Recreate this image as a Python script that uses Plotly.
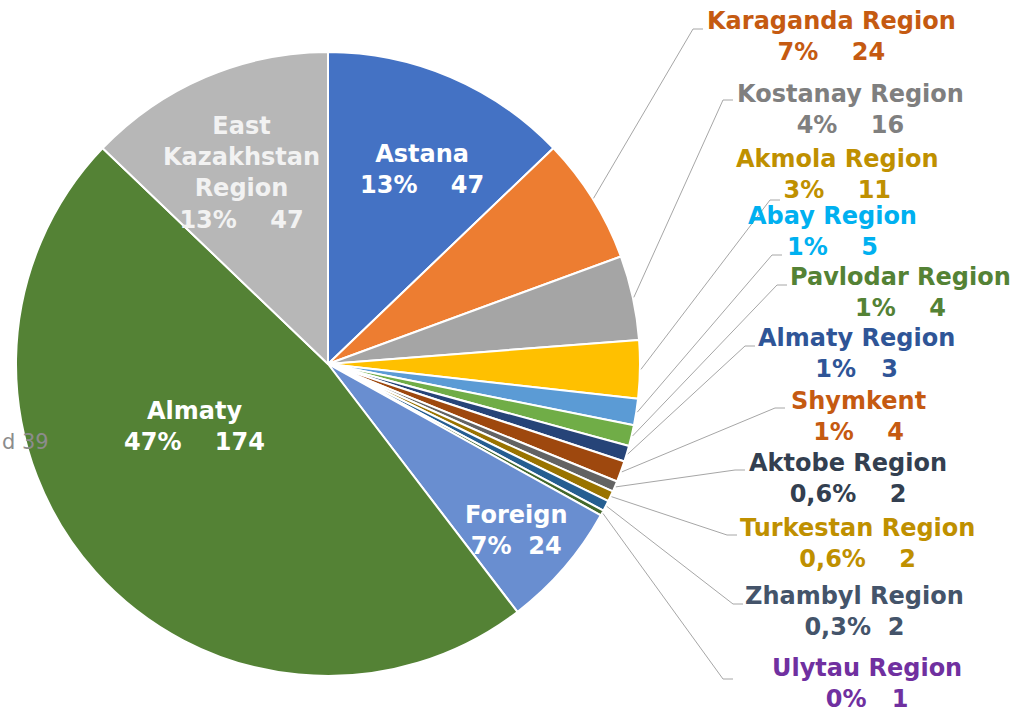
import math
import plotly.graph_objects as go

# ---------------- data ----------------
labels = ["Astana", "Karaganda Region", "Kostanay Region", "Akmola Region", "Abay Region",
          "Pavlodar Region", "Almaty Region", "Shymkent", "Aktobe Region", "Turkestan Region",
          "Zhambyl Region", "Ulytau Region", "Foreign", "Almaty", "East Kazakhstan Region"]
values = [47, 24, 16, 11, 5, 4, 3, 4, 2, 2, 2, 1, 24, 174, 47]
pct_labels = ["13%", "7%", "4%", "3%", "1%", "1%", "1%", "1%", "0,6%", "0,6%",
              "0,3%", "0%", "7%", "47%", "13%"]
name_lines = ["Astana", "Karaganda Region", "Kostanay Region", "Akmola Region", "Abay Region",
              "Pavlodar Region", "Almaty Region", "Shymkent", "Aktobe Region", "Turkestan Region",
              "Zhambyl Region", "Ulytau Region", "Foreign", "Almaty", "East<br>Kazakhstan<br>Region"]
clipped_label = "d 39"

# ---------------- styles ----------------
slice_colors = ["#4472C4", "#ED7D31", "#A5A5A5", "#FFC000", "#5B9BD5", "#70AD47", "#264478",
                "#9E480E", "#636363", "#997300", "#255E91", "#43682B", "#698ED0", "#548235",
                "#B7B7B7"]
text_colors = ["#FFFFFF", "#C55A11", "#7F7F7F", "#BF9000", "#00B0F0", "#548235", "#2F5597",
               "#C55A11", "#333F50", "#BF9000", "#44546A", "#7030A0", "#FFFFFF", "#FFFFFF",
               "#F2F2F2"]
gaps = [4, 4, 4, 4, 4, 4, 3, 4, 4, 4, 2, 3, 2, 4, 4]

# layout (pixel positions of label centres)
W, H = 1024, 713
CX, CY, R = 328, 364, 312
label_pos = [(422, 169), (831, 36.5), (850, 109.5), (837, 174.5), (832, 231.5),
             (900, 292.5), (856, 353.5), (858, 416.5), (848, 478), (857, 543),
             (854, 611), (867, 683.5), (516, 530), (194, 426.5), (241, 172.5)]
elbows = [None, (693, 29), (723, 100), (770, 200), (772, 255), (777, 285), (745, 346),
          (775, 408), (735, 470), (727, 535), (733, 604), (723, 679), None, None, None]

FONT = "DejaVu Sans"
FS = 24


def px(x):
    return x / W


def py(y):
    return 1 - y / H


fig = go.Figure()
fig.add_trace(go.Pie(
    labels=labels, values=values, sort=False, direction="clockwise", rotation=0,
    marker=dict(colors=slice_colors, line=dict(color="white", width=2)),
    textinfo="none", hoverinfo="label+value+percent", showlegend=False,
    domain=dict(x=[(CX - R) / W, (CX + R) / W], y=[1 - (CY + R) / H, 1 - (CY - R) / H]),
))

total = sum(values)
shapes = []
annotations = []
cum = 0
for i, v in enumerate(values):
    mid = (cum + v / 2) / total * 2 * math.pi
    cum += v
    nb = "\u00a0" * gaps[i]
    txt = f"<b>{name_lines[i]}<br>{pct_labels[i]}{nb}{v}</b>"
    x, y = label_pos[i]
    annotations.append(dict(
        x=px(x), y=py(y), xref="paper", yref="paper", text=txt, showarrow=False,
        xanchor="center", yanchor="middle", align="center",
        font=dict(family=FONT, size=FS, color=text_colors[i]),
    ))
    if elbows[i] is not None:
        ex = CX + (R + 1) * math.sin(mid)
        ey = CY - (R + 1) * math.cos(mid)
        bx, by = elbows[i]
        path = f"M {px(ex)} {py(ey)} L {px(bx)} {py(by)} L {px(bx + 10)} {py(by)}"
        shapes.append(dict(type="path", path=path, xref="paper", yref="paper",
                           line=dict(color="#A6A6A6", width=1)))

annotations.append(dict(
    x=px(1), y=py(442), xref="paper", yref="paper", text=clipped_label, showarrow=False,
    xanchor="left", yanchor="middle", borderpad=0,
    font=dict(family=FONT, size=21, color="#8C8C8C"),
))

fig.update_layout(
    width=W, height=H, margin=dict(l=0, r=0, t=0, b=0),
    paper_bgcolor="white", plot_bgcolor="white",
    shapes=shapes, annotations=annotations,
)

fig.write_html("out.html", config={"displayModeBar": False},
               post_script="document.body.style.margin='0px';")
